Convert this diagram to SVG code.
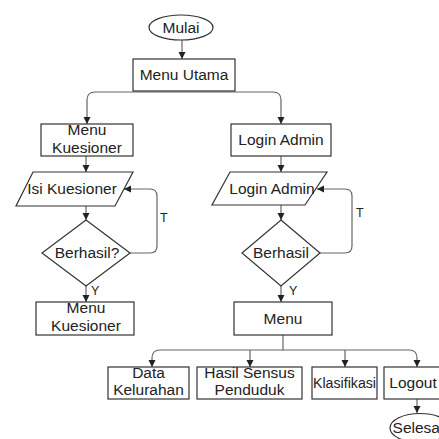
<svg xmlns="http://www.w3.org/2000/svg" width="439" height="439" viewBox="0 0 439 439">
<defs>
<style>
.s{fill:#fff;stroke:#333;stroke-width:1.2}
.t{font-family:"Liberation Sans",Arial,sans-serif;font-size:15.5px;fill:#222;text-anchor:middle}
.l{font-family:"Liberation Sans",Arial,sans-serif;font-size:12.5px;fill:#222}
.c{fill:none;stroke:#666;stroke-width:1.2}
</style>
<marker id="arr" markerWidth="8" markerHeight="8" refX="7" refY="4" orient="auto" markerUnits="userSpaceOnUse"><path d="M0,0.5 L7,4 L0,7.5 z" fill="#222"/></marker>
</defs>
<rect width="439" height="439" fill="#fff"/>
<g id="connectors">
<path class="c" d="M182,40 V59" marker-end="url(#arr)"/>
<path class="c" d="M184,92 H95 Q87,92 87,100 V124" marker-end="url(#arr)"/>
<path class="c" d="M184,92 H273 Q281,92 281,100 V124" marker-end="url(#arr)"/>
<path class="c" d="M86,156 V172" marker-end="url(#arr)"/>
<path class="c" d="M86,206 V220" marker-end="url(#arr)"/>
<path class="c" d="M130,253 H150 Q157,253 157,246 V196 Q157,189 150,189 H124" marker-end="url(#arr)"/>
<path class="c" d="M86,286 V302" marker-end="url(#arr)"/>
<path class="c" d="M281,156 V172" marker-end="url(#arr)"/>
<path class="c" d="M281,205 V220" marker-end="url(#arr)"/>
<path class="c" d="M320,253 H345 Q352,253 352,246 V196 Q352,189 345,189 H317" marker-end="url(#arr)"/>
<path class="c" d="M281,286 V302" marker-end="url(#arr)"/>
<path class="c" d="M283,335 V350 H160 Q152,350 152,358 V367" marker-end="url(#arr)"/>
<path class="c" d="M250,350 V367" marker-end="url(#arr)"/>
<path class="c" d="M283,350 H409 Q417,350 417,358 V367" marker-end="url(#arr)"/>
<path class="c" d="M345,350 V367" marker-end="url(#arr)"/>
<path class="c" d="M417,399 V413" marker-end="url(#arr)"/>
<text class="l" x="160" y="222">T</text>
<text class="l" x="356" y="217">T</text>
<text class="l" x="91" y="295">Y</text>
<text class="l" x="289" y="295">Y</text>
</g>
<g id="mulai"><ellipse class="s" cx="181" cy="27.5" rx="32" ry="12.5"/><text class="t" x="181" y="33">Mulai</text></g>
<g id="menu-utama"><rect class="s" x="133" y="59" width="102" height="32"/><text class="t" x="184" y="80">Menu Utama</text></g>
<g id="menu-kuesioner-1"><rect class="s" x="41" y="124" width="92" height="32"/><text class="t" x="87" y="135">Menu</text><text class="t" x="87" y="153">Kuesioner</text></g>
<g id="isi-kuesioner"><polygon class="s" points="33,172 133,172 115,206 16,206"/><text class="t" x="72" y="194">Isi Kuesioner</text></g>
<g id="berhasil-1"><polygon class="s" points="86,220 130,253 86,286 42,253"/><text class="t" x="87" y="258">Berhasil?</text></g>
<g id="menu-kuesioner-2"><rect class="s" x="36" y="302" width="98" height="33"/><text class="t" x="86" y="313">Menu</text><text class="t" x="86" y="331">Kuesioner</text></g>
<g id="login-admin-1"><rect class="s" x="231" y="124" width="100" height="32"/><text class="t" x="281" y="145">Login Admin</text></g>
<g id="login-admin-2"><polygon class="s" points="230,172 327,172 305,205 212,205"/><text class="t" x="272" y="194">Login Admin</text></g>
<g id="berhasil-2"><polygon class="s" points="281,220 320,253 281,286 242,253"/><text class="t" x="281" y="258">Berhasil</text></g>
<g id="menu"><rect class="s" x="234" y="302" width="98" height="33"/><text class="t" x="283" y="324">Menu</text></g>
<g id="data-kelurahan"><rect class="s" x="108" y="367" width="81" height="32"/><text class="t" x="148.5" y="378">Data</text><text class="t" x="148.5" y="395">Kelurahan</text></g>
<g id="hasil-sensus"><rect class="s" x="197" y="367" width="105" height="32"/><text class="t" x="249.5" y="378">Hasil Sensus</text><text class="t" x="249.5" y="395">Penduduk</text></g>
<g id="klasifikasi"><rect class="s" x="312" y="367" width="65" height="32"/><text class="t" x="344.5" y="388" textLength="63" lengthAdjust="spacingAndGlyphs">Klasifikasi</text></g>
<g id="logout"><rect class="s" x="384" y="367" width="60" height="32"/><text class="t" x="413" y="388">Logout</text></g>
<g id="selesai"><ellipse class="s" cx="420" cy="428" rx="30" ry="14.5"/><text class="t" x="418" y="433">Selesai</text></g>
</svg>
